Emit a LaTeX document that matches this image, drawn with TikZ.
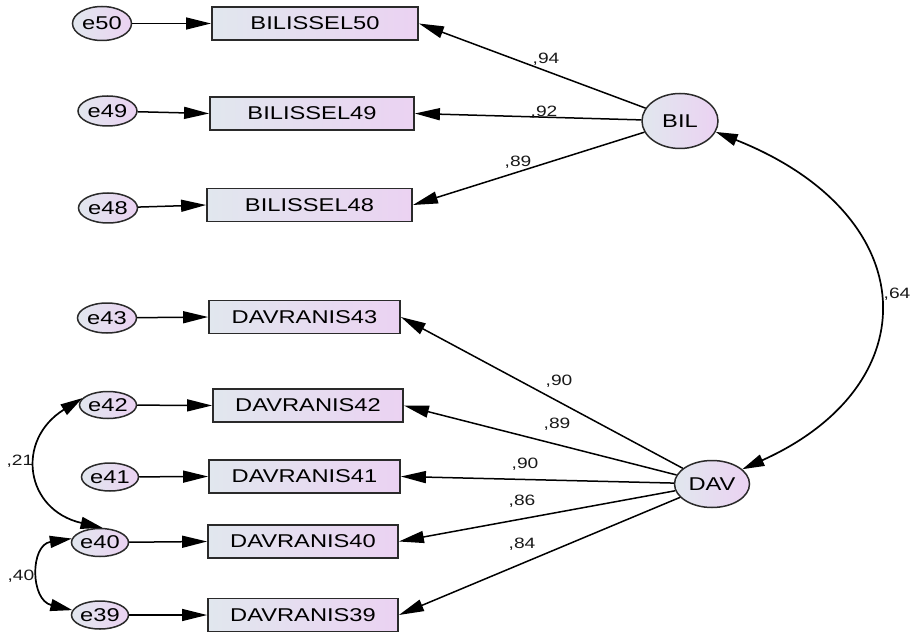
\documentclass[tikz,border=0pt]{standalone}
\usepackage{fontspec}
\setmainfont[FakeStretch=1.28]{Liberation Sans}
\usetikzlibrary{arrows.meta,shapes.geometric}
\definecolor{fillL}{HTML}{E1E7EE}
\definecolor{fillR}{HTML}{EBD2F2}
\definecolor{edge}{HTML}{2A2A2A}
\tikzset{
  obs/.style={draw=edge, line width=1.8pt, rectangle, inner sep=0pt,
    left color=fillL, right color=fillR, minimum height=33pt,
    font=\fontsize{18.5}{20}\selectfont, text=black},
  err/.style={draw=edge, line width=1.5pt, ellipse, inner sep=0pt,
    left color=fillL, right color=fillR, minimum width=59pt, minimum height=30pt,
    font=\fontsize{18.5}{20}\selectfont, text=black},
  lat/.style={draw=edge, line width=1.5pt, ellipse, inner sep=0pt,
    left color=fillL, right color=fillR,
    font=\fontsize{18.5}{20}\selectfont, text=black},
  path/.style={line width=1.5pt, black, -{Triangle[length=25pt,width=12pt]}},
  cov/.style={line width=1.7pt, black, {Triangle[length=22pt,width=12pt]}-{Triangle[length=22pt,width=12pt]}},
  coef/.style={font=\fontsize{15}{17}\selectfont, text=black!90, inner sep=0pt}
}
\begin{document}
\begin{tikzpicture}[x=1pt,y=-1pt]
\useasboundingbox (0,0) rectangle (912,636);

% observed indicators
\node[obs, minimum width=206pt] (b50) at (315,23.5) {BILISSEL50};
\node[obs, minimum width=204pt] (b49) at (312,113.5) {BILISSEL49};
\node[obs, minimum width=205pt] (b48) at (309.5,205) {BILISSEL48};
\node[obs, minimum width=191pt] (d43) at (304.5,317) {DAVRANIS43};
\node[obs, minimum width=190pt] (d42) at (308,405.5) {DAVRANIS42};
\node[obs, minimum width=191pt] (d41) at (304.5,476.5) {DAVRANIS41};
\node[obs, minimum width=190pt] (d40) at (303,541.5) {DAVRANIS40};
\node[obs, minimum width=190pt] (d39) at (303,615) {DAVRANIS39};

% error terms
\node[err, minimum height=34pt] (e50) at (102,23.5) {e50};
\node[err] (e49) at (107.5,111) {e49};
\node[err] (e48) at (108,208) {e48};
\node[err] (e43) at (107,318) {e43};
\node[err, minimum width=57pt, minimum height=27pt] (e42) at (108,405) {e42};
\node[err, minimum width=57pt, minimum height=28pt] (e41) at (110,477) {e41};
\node[err, minimum width=57pt, minimum height=28pt] (e40) at (100,542.5) {e40};
\node[err, minimum width=57pt, minimum height=28pt] (e39) at (100,615) {e39};

% latent factors
\node[lat, minimum width=76pt, minimum height=55pt] (BIL) at (680,121) {BIL};
\node[lat, minimum width=75pt, minimum height=47pt] (DAV) at (712,484) {DAV};

% error paths
\foreach \e/\o in {e50/b50,e49/b49,e48/b48,e43/d43,e42/d42,e41/d41,e40/d40,e39/d39}
  \draw[path] (\e) -- (\o.west);

% loadings
\draw[path] (BIL) -- (b50.east);
\draw[path] (BIL) -- (b49.east);
\draw[path] (BIL) -- (b48.east);
\draw[path] (DAV) -- (d43.east);
\draw[path] (DAV) -- (d42.east);
\draw[path] (DAV) -- (d41.east);
\draw[path] (DAV) -- (d40.east);
\draw[path] (DAV) -- (d39.east);

\node[coef] (c50) at (546,59) {,94};
\node[coef] (c49) at (544,112) {,92};
\node[coef] (c48) at (518,162) {,89};
\node[coef] (c43) at (559,381) {,90};
\node[coef] (c42) at (557,424) {,89};
\node[coef] (c41) at (525,464) {,90};
\node[coef] (c40) at (522,501) {,86};
\node[coef] (c39) at (522,544) {,84};

% covariances
\draw[cov] (BIL.-17) .. controls (925,215) and (930,385) .. (DAV.26);
\node[coef] (r64) at (897,294) {,64};

\draw[cov] (e42.165) .. controls (15,440) and (25,510) .. (e40.80);
\node[coef] (r21) at (20,461) {,21};

\draw[cov] (e40.172) .. controls (30,545) and (30,600) .. (e39.170);
\node[coef] (r40) at (21,576) {,40};
\end{tikzpicture}
\end{document}
